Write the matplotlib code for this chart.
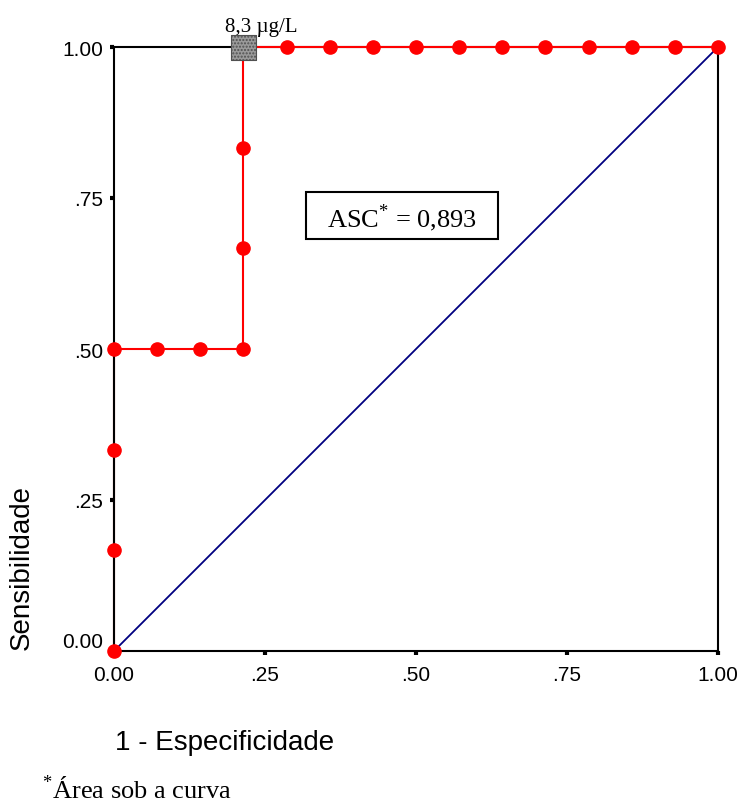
import matplotlib
matplotlib.use("Agg")
import matplotlib.pyplot as plt
from matplotlib.patches import Rectangle

# curva ROC (1 - especificidade, sensibilidade)
fpr = [0.0, 0.0, 0.0, 0.0, 0.071, 0.143, 0.214, 0.214, 0.214, 0.214,
       0.286, 0.357, 0.429, 0.5, 0.571, 0.643, 0.714, 0.786, 0.857, 0.929, 1.0]
tpr = [0.0, 0.167, 0.333, 0.5, 0.5, 0.5, 0.5, 0.667, 0.833, 1.0,
       1.0, 1.0, 1.0, 1.0, 1.0, 1.0, 1.0, 1.0, 1.0, 1.0, 1.0]
ref_x = [0.0, 1.0]
ref_y = [0.0, 1.0]
corte_x = [0.214]
corte_y = [1.0]
corte_label = "8,3 µg/L"
asc_text = "ASC$^{*}$ = 0,893"
ticks = [0.0, 0.25, 0.5, 0.75, 1.0]
tick_labels = ["0.00", ".25", ".50", ".75", "1.00"]

plt.rcParams['font.family'] = ['Liberation Sans', 'DejaVu Sans']
plt.rcParams['mathtext.fontset'] = 'custom'
plt.rcParams['mathtext.rm'] = 'Liberation Serif'

fig = plt.figure(figsize=(7.41, 8.03), dpi=100)
ax = fig.add_axes([114/741, 151/803, 604/741, 604/803])

ax.plot(ref_x, ref_y, color='#000080', lw=1.3, zorder=2)
ax.plot(fpr, tpr, color='red', lw=1.5, clip_on=False, zorder=3)
ax.plot(fpr, tpr, color='red', ls='none', marker='o', markersize=9.5,
        clip_on=False, zorder=5)
ax.spines['left'].set_zorder(4)
ax.scatter(corte_x, corte_y, marker='s', s=18**2, facecolor='#9a9a9a',
           edgecolor='#505050', hatch='.....', linewidths=0.8,
           clip_on=False, zorder=6)
ax.annotate(corte_label, (corte_x[0], corte_y[0]), xytext=(-13.5, 11.5),
            textcoords='offset points', ha='left', va='baseline',
            fontsize=15, family='Liberation Serif')

# caixa da ASC
ax.add_patch(Rectangle((0.318, 0.682), 0.318, 0.078, transform=ax.transAxes,
                       fc='white', ec='black', lw=1.5, zorder=4))
ax.text(0.477, 0.719, asc_text, ha='center', va='center', fontsize=19,
        family='Liberation Serif', transform=ax.transAxes, zorder=5)

ax.set_xlim(0, 1)
ax.set_ylim(0, 1)
ax.set_xticks(ticks)
ax.set_xticklabels(tick_labels)
ax.set_yticks(ticks)
ax.set_yticklabels(tick_labels)
for lab in ax.get_yticklabels():
    if lab.get_text() == "0.00":
        lab.set_va('bottom')
for s in ax.spines.values():
    s.set_linewidth(1.5)
ax.tick_params(direction='out', length=3, width=3, labelsize=15)
ax.tick_params(axis='x', pad=7)
ax.tick_params(axis='y', pad=5)

fig.text(115/741, 1 - 743/803, "1 - Especificidade", fontsize=20,
         ha='left', va='center')
fig.text(22/741, 1 - 568/803, "Sensibilidade", fontsize=20,
         rotation=90, ha='center', va='center')
fig.text(42/741, 1 - 790/803, "$^{*}$Área sob a curva", fontsize=19,
         family='Liberation Serif', ha='left', va='center')

fig.savefig("out.png", dpi=100)
